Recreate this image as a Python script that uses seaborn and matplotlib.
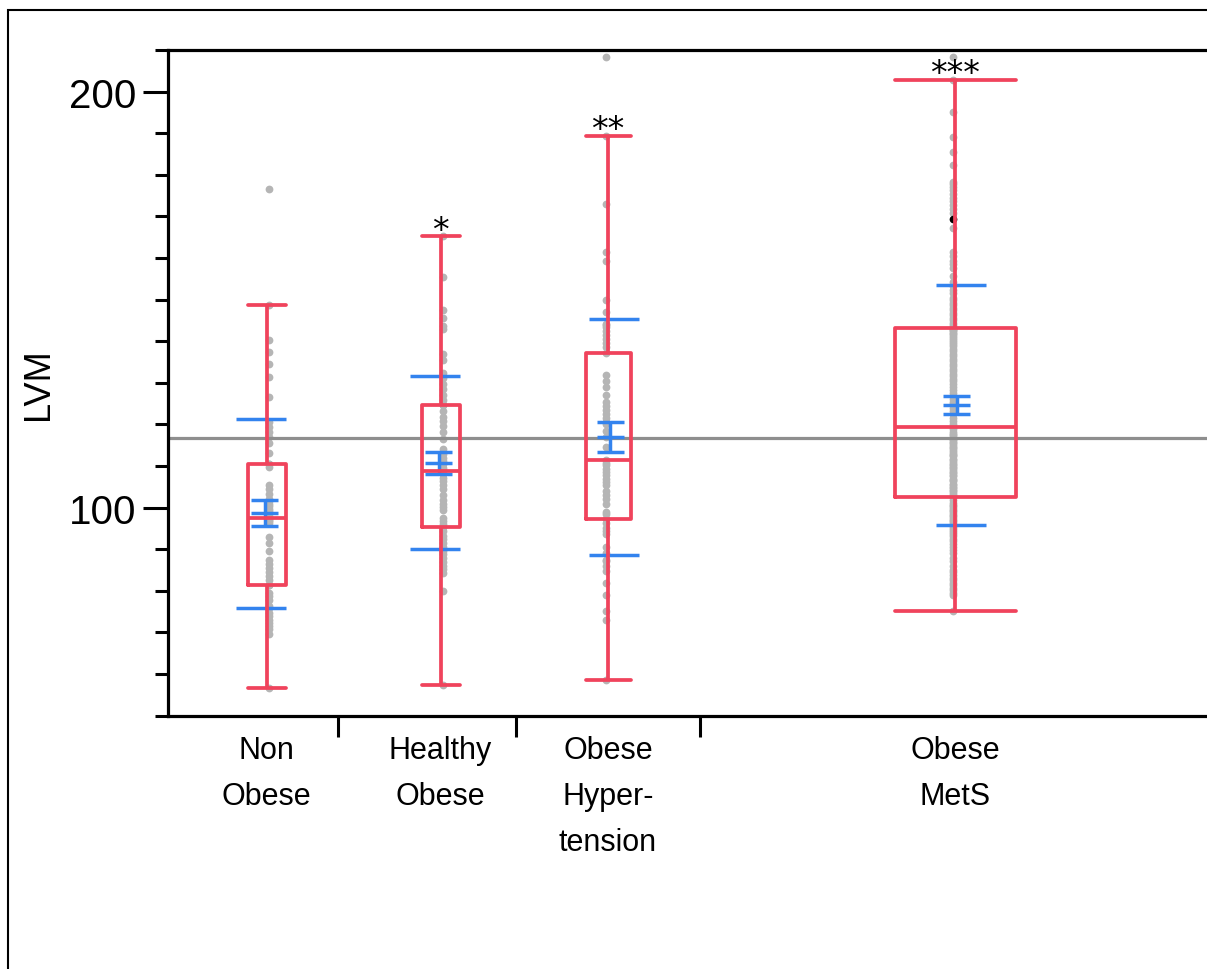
import numpy as np
import pandas as pd
import matplotlib
matplotlib.use("Agg")
import matplotlib.pyplot as plt
from matplotlib.patches import Rectangle
from matplotlib.ticker import FixedLocator, MultipleLocator, NullFormatter
import seaborn as sns

# ---------------------------------------------------------------- data
groups = ["Non\nObese", "Healthy\nObese", "Obese\nHyper-\ntension", "Obese\nMetS"]
stars = ["", "*", "**", "***"]

lvm_non_obese = [
    56.7, 69.7, 70.8, 71.5, 72.4, 73.1, 74.0, 74.7, 76.0, 76.3, 77.9, 78.8, 79.5,
    81.5, 81.5,
    82.6, 83.6, 84.6, 85.5, 86.4, 87.5, 89.5, 91.5, 93.0, 96.2, 96.8, 97.0,
    97.4, 97.4,
    98.0, 98.6, 99.2, 99.8, 100.4, 101.0, 101.6, 102.2, 103.4, 104.5, 105.4, 109.8,
    110.4, 110.4,
    113.2, 115.6, 117.0, 118.2, 119.4, 120.6, 126.5, 131.4, 134.5, 137.5, 140.4,
    148.8, 176.5,
]

lvm_healthy_obese = [
    57.4, 79.9, 84.3, 85.2, 86.1, 87.0, 87.9, 88.8, 89.7, 90.6, 91.5, 92.4, 93.3, 94.3,
    95.4, 95.4,
    96.0, 96.7, 97.5, 99.4, 100.2, 101.0, 101.8, 103.0, 104.6, 105.4, 106.3, 107.2, 108.0,
    108.8,
    109.6, 110.4, 111.2, 112.0, 112.8, 113.5, 114.2, 116.6, 118.3, 119.7, 120.8, 121.9,
    123.2,
    124.7, 124.7,
    125.8, 127.0, 128.6, 129.8, 131.2, 132.4, 135.5, 137.0, 142.9, 143.6, 145.5, 147.5,
    155.5, 165.2,
]

lvm_obese_hypertension = [
    58.7, 73.1, 75.1, 79.1, 81.9, 84.7, 85.9, 87.1, 87.5, 89.0, 90.5, 93.7, 94.5, 95.0,
    96.2,
    97.3,
    98.5, 99.0, 101.0, 102.0, 103.0, 104.0, 105.4, 106.2, 107.0, 107.8, 108.6, 109.4,
    110.2, 110.8,
    111.4,
    114.5, 117.0, 118.5, 120.0, 120.5, 121.5, 122.5, 123.5, 124.5, 125.5, 127.0, 129.0,
    130.5, 132.0,
    137.2,
    138.5, 139.5, 140.5, 141.5, 142.5, 143.4, 143.9, 144.2, 147.1, 149.9, 159.3, 161.4,
    172.9, 189.4, 208.2,
]

lvm_obese_mets = [
    75.1, 79.1, 79.6, 80.2, 80.8, 81.4, 82.0, 82.6, 83.2, 83.9,
    84.5, 85.0, 86.0, 87.1, 88.0, 89.0, 89.8, 90.5, 91.2, 91.9,
    92.5, 93.1, 93.7, 94.2, 94.7, 95.2, 95.7, 96.2, 96.7, 97.1,
    97.5, 97.9, 98.3, 98.7, 99.1, 99.5, 99.9, 100.3, 100.7, 101.2,
    101.8,
    102.6, 102.6,
    103.0, 103.5, 103.9, 104.2, 104.7, 105.0, 105.5, 105.8, 106.3, 106.6,
    107.0, 107.5, 107.8, 108.3, 108.6, 109.0, 109.5, 109.8, 110.3, 110.6,
    111.0, 111.5, 111.8, 112.3, 112.6, 113.0, 113.5, 113.8, 114.3, 114.6,
    115.0, 115.5, 115.8, 116.3, 116.6, 117.0, 117.5, 117.8, 118.3, 118.8,
    119.4, 119.4,
    120.0, 120.8, 121.6, 122.4, 123.2, 124.0, 124.8, 125.5, 126.2, 126.9,
    127.6, 128.3, 129.0, 129.7, 130.4, 131.0, 131.6, 132.2, 132.8, 133.4,
    134.0, 134.6, 135.2, 135.8, 136.4, 137.0, 137.6, 138.2, 138.8, 139.3,
    139.8, 140.3, 140.8, 141.3, 141.7, 142.1, 142.5, 142.8, 143.0, 143.2,
    143.3, 143.3,
    143.5, 143.9, 144.4, 145.0, 145.6, 146.2, 146.8, 147.4, 148.0, 148.6,
    149.2, 149.8, 150.4, 151.7, 152.4, 153.2, 154.3, 155.6,
    157.6, 158.5, 159.4, 160.4, 161.4,
    167.3, 169.4,
    170.9, 171.8, 172.7, 173.6, 174.5, 175.4, 176.3, 177.0, 177.7, 178.2,
    182.3, 185.5, 189.1, 195.2, 202.8, 208.2,
]

# one selected subject in the MetS group
highlight_group = 3
highlight_value = 169.4

# ---------------------------------------------------------------- layout
# horizontal axis runs in pixel-like units across the plotting band
slot_edges = [169.5, 347.5, 532.3, 1041.0]
slot_centers = [98.7, 272.5, 440.0, 787.0]
box_widths = [38, 38, 45, 121]
point_shift = [2.5, 2.5, -2.5, -2.5]      # dots sit just beside the whisker
sd_shift = [-5.5, -5.5, 6.0, 5.5]
se_shift = [-2.0, -2.0, 2.0, 1.7]
sd_bar_len = 50
se_bar_len = 27

RED = "#F0435C"
BLUE = "#3383EE"
POINT_GRAY = "#B5B5B5"
LINE_GRAY = "#8E8E8E"

sns.set_theme(style="white")
plt.rcParams["font.family"] = ["Liberation Sans", "DejaVu Sans"]

series = [lvm_non_obese, lvm_healthy_obese, lvm_obese_hypertension, lvm_obese_mets]
df = pd.concat(
    [pd.DataFrame({"group": g, "pos": c, "dot_pos": c + d, "LVM": v})
     for g, c, d, v in zip(groups, slot_centers, point_shift, series)],
    ignore_index=True,
)

W, H = 1207, 970
fig = plt.figure(figsize=(W / 100, H / 100), dpi=100)
fig.patch.set_facecolor("white")
ax_left, ax_right, ax_top, ax_bottom = 168, 1209, 51, 716.7
ax = fig.add_axes([ax_left / W, 1 - ax_bottom / H,
                   (ax_right - ax_left) / W, (ax_bottom - ax_top) / H])

# raw observations
sns.stripplot(data=df, x="dot_pos", y="LVM", native_scale=True, orient="x",
              jitter=False, color=POINT_GRAY, size=5.6, linewidth=0,
              zorder=2, ax=ax)

# grand mean reference line
ax.axhline(df["LVM"].mean(), color=LINE_GRAY, lw=2.3, zorder=2.5)

# highlighted subject
sub_hl = df[(df["group"] == groups[highlight_group]) & (df["LVM"] == highlight_value)].head(1)
sns.scatterplot(data=sub_hl, x="dot_pos", y="LVM", color="black", s=30,
                linewidth=0, zorder=3, ax=ax, legend=False)

# mean, +/- 1 SE error bars and +/- 1 SD lines
stats = df.groupby("group", sort=False)["LVM"].agg(["mean", "std", "count"])
for g, c, ds, de in zip(groups, slot_centers, sd_shift, se_shift):
    m, s, n = stats.loc[g, "mean"], stats.loc[g, "std"], stats.loc[g, "count"]
    se = s / np.sqrt(n)
    xs, xe = c + ds, c + de
    ax.hlines([m - s, m + s], xs - sd_bar_len / 2, xs + sd_bar_len / 2,
              color=BLUE, lw=2.5, zorder=3.5)
    ax.hlines([m - se, m, m + se], xe - se_bar_len / 2, xe + se_bar_len / 2,
              color=BLUE, lw=2.5, zorder=3.5)
    ax.vlines(xe, m - se, m + se, color=BLUE, lw=2.5, zorder=3.5)

# outlier box plots, one per group so each gets its own width
for g, w in zip(groups, box_widths):
    sub = df[df["group"] == g]
    sns.boxplot(data=sub, x="pos", y="LVM", native_scale=True, orient="x",
                width=w, fill=False, color=RED, linewidth=2.7, whis=1.5,
                showfliers=False, capwidths=w, zorder=5, ax=ax)

# significance marks above the upper whisker
for vals, c, mark in zip(series, slot_centers, stars):
    if not mark:
        continue
    v = np.asarray(vals)
    q1, q3 = np.percentile(v, [25, 75])
    top = v[v <= q3 + 1.5 * (q3 - q1)].max()
    ax.annotate(mark, (c, top), xytext=(0, -2.5), textcoords="offset points",
                ha="center", va="baseline", fontsize=24, color="black",
                family=["DejaVu Sans"], zorder=6)

# axes styling
ax.set_xlim(0, 1041)
ax.set_ylim(50, 210)
ax.set_xlabel("")
ax.set_ylabel("LVM", fontsize=26, color="black")
ax.yaxis.set_label_coords(-0.108, 0.5)

ax.xaxis.set_major_locator(FixedLocator(slot_edges))
ax.xaxis.set_major_formatter(NullFormatter())
ax.set_xticks(slot_centers, labels=groups, minor=True)
ax.tick_params(axis="x", which="major", direction="out", length=15, width=2.2,
               color="black", bottom=True)
ax.tick_params(axis="x", which="minor", length=0, pad=14, labelsize=22,
               labelcolor="black", bottom=True)
for lbl in ax.get_xticklabels(minor=True):
    lbl.set_linespacing(1.7)

ax.yaxis.set_major_locator(MultipleLocator(100))
ax.yaxis.set_minor_locator(MultipleLocator(10))
ax.tick_params(axis="y", which="major", direction="out", length=18, width=2.2,
               labelsize=29, pad=5, color="black", labelcolor="black", left=True)
ax.tick_params(axis="y", which="minor", direction="out", length=9.4, width=2.2,
               color="black", left=True)

for side in ("left", "top", "bottom"):
    ax.spines[side].set_visible(True)
    ax.spines[side].set_color("black")
    ax.spines[side].set_linewidth(2.3)
ax.spines["right"].set_visible(False)
ax.set_facecolor("white")

# outer frame of the report panel
fig.add_artist(Rectangle((8 / W, -0.2), 1.3, 1.2 - 10.5 / H,
                         transform=fig.transFigure, fill=False,
                         edgecolor="black", lw=1.5))

fig.savefig("out.png", dpi=100, facecolor="white")
